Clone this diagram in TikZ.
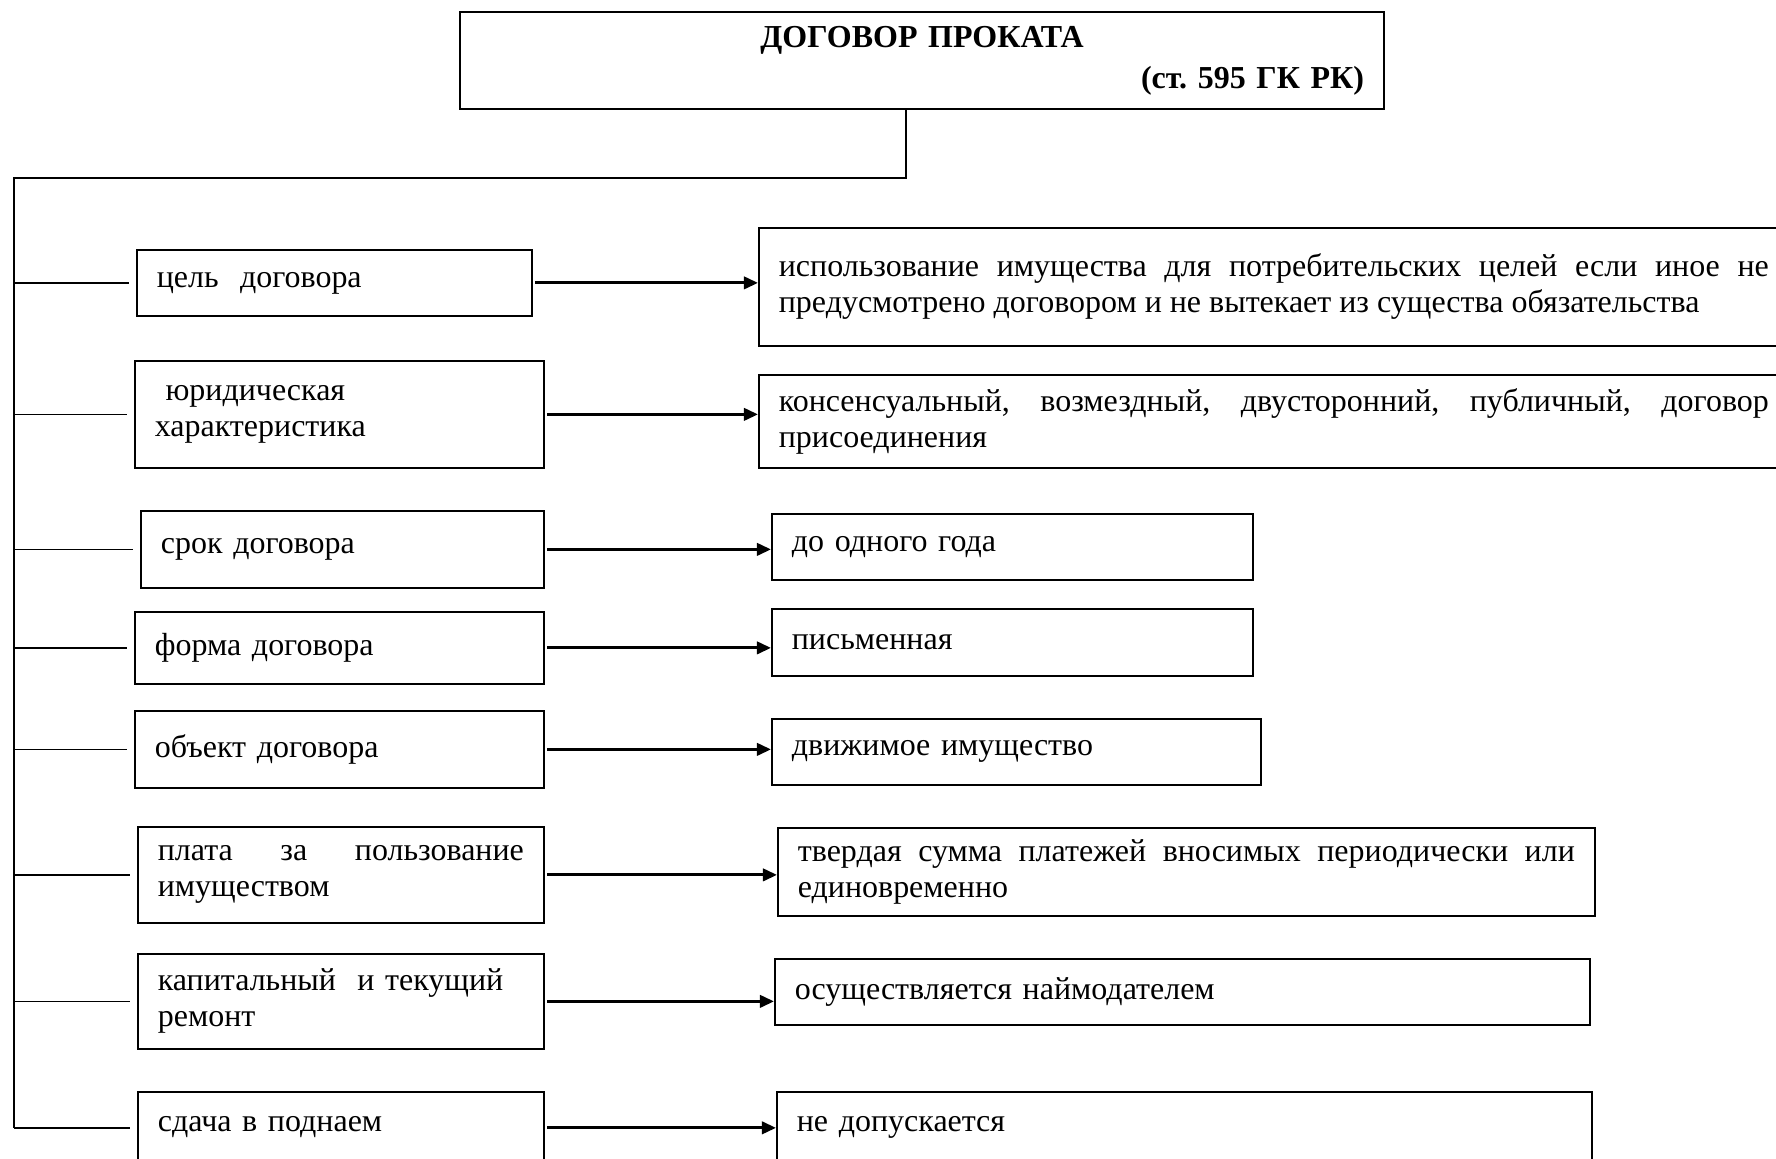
\documentclass[tikz,border=0pt]{standalone}
\usepackage{fontspec}
\setmainfont{Liberation Serif}
\usetikzlibrary{arrows.meta,calc}
\hyphenpenalty=10000
\tolerance=9999
\hbadness=10000
\frenchspacing

\begin{document}
\begin{tikzpicture}[>={Triangle[length=8pt,width=7pt]}, line width=1pt,
		font=\fontsize{18.2pt}{20.5pt}\selectfont,
		cell/.style={draw, anchor=north west, inner xsep=0.4cm, inner ysep=0.1cm, align=left},
		jcell/.style={cell, align=justify},
		link/.style={->, line width=1.7pt, shorten <=1.5pt},
		stub/.style={line width=1pt, shorten >=4pt}]
	\useasboundingbox (0,0) rectangle (35.52,-23.18);
	\clip (0,0) rectangle (35.52,-23.18);
	\node[cell, line width=1.2pt, text width=17.68cm, minimum height=1.94cm, align=right,
		font=\fontsize{18.2pt}{20.5pt}\selectfont\bfseries] (title) at (9.18,-0.22)
		{\makebox[\linewidth]{ДОГОВОР ПРОКАТА}\\[2.8pt](ст. 595 ГК РК)};
	% left column
	\node[cell, text width=7.10cm, minimum height=1.32cm] (p1) at (2.72,-4.98) {цель~ договора};
	\node[cell, text width=7.38cm, minimum height=2.14cm] (p2) at (2.68,-7.20) {~юридическая\\характеристика};
	\node[cell, text width=7.26cm, minimum height=1.54cm] (p3) at (2.80,-10.20) {срок договора};
	\node[cell, text width=7.38cm, minimum height=1.44cm] (p4) at (2.68,-12.22) {форма договора};
	\node[cell, text width=7.38cm, minimum height=1.54cm] (p5) at (2.68,-14.20) {объект договора};
	\node[jcell, text width=7.32cm, minimum height=1.92cm] (p6) at (2.74,-16.52) {плата за пользование имуществом};
	\node[cell, text width=7.32cm, minimum height=1.90cm] (p7) at (2.74,-19.06) {капитальный~ и текущий\\ремонт};
	\node[cell, text width=7.32cm, text height=0.70cm, text depth=1.0cm] (p8) at (2.74,-21.82) {сдача в поднаем};
	% right column
	\node[jcell, text width=19.8cm, minimum height=2.36cm] (d1) at (15.16,-4.54) {использование имущества для потребительских целей если иное не предусмотрено договором и не вытекает из существа обязательства};
	\node[jcell, text width=19.8cm, minimum height=1.86cm] (d2) at (15.16,-7.48) {консенсуальный, возмездный, двусторонний, публичный, договор присоединения};
	\node[cell, text width=8.82cm, minimum height=1.32cm] (d3) at (15.42,-10.26) {до одного года};
	\node[cell, text width=8.82cm, minimum height=1.34cm] (d4) at (15.42,-12.16) {письменная};
	\node[cell, text width=8.98cm, minimum height=1.32cm] (d5) at (15.42,-14.36) {движимое имущество};
	\node[jcell, text width=15.54cm, minimum height=1.76cm] (d6) at (15.54,-16.54) {твердая сумма платежей вносимых периодически или единовременно};
	\node[cell, text width=15.50cm, minimum height=1.32cm] (d7) at (15.48,-19.16) {осуществляется наймодателем};
	\node[cell, text width=15.50cm, text height=0.70cm, text depth=1.0cm] (d8) at (15.52,-21.82) {не допускается};
	\coordinate (hub) at (18.12,-3.56);
	\coordinate (trunk) at (0.28,-3.56);
	\draw[stub, shorten >=0pt] (title.south -| hub) -- (hub) -- (trunk) -- (trunk |- p8.mid west);
	\foreach \i in {1,...,7} {
		\draw[stub] (trunk |- p\i.west) -- (p\i.west);
		\draw[link] (p\i.east) -- (p\i.east -| d\i.west);
	}
	\draw[stub] (trunk |- p8.mid west) -- (p8.mid west);
	\draw[link] (p8.mid east) -- (p8.mid east -| d8.west);
\end{tikzpicture}
\end{document}
